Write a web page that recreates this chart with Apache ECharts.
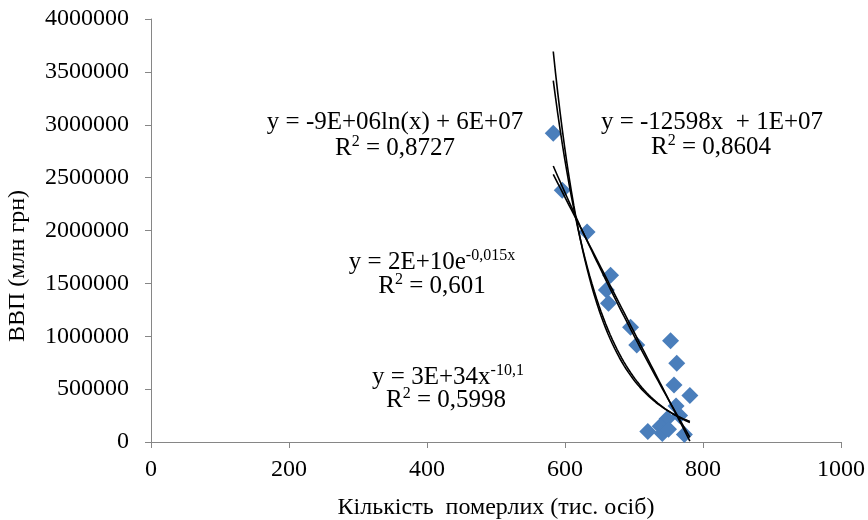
<!DOCTYPE html>
<html lang="uk">
<head>
    <meta charset="UTF-8">
    <title>ВВП та кількість померлих</title>
    <script src="https://cdn.jsdelivr.net/npm/echarts@6/dist/echarts.min.js"></script>
    <style>
        html, body { margin: 0; padding: 0; background: #fff; }
        #chart { width: 868px; height: 520px; }
    </style>
</head>
<body>
<div id="chart"></div>

<script type="text/javascript">

    // кількість померлих, тис. осіб
    var deaths = [583, 596, 632, 666, 660, 663, 695, 704, 753, 762, 758, 781, 761, 748, 766, 738, 720, 741, 773, 750];
    // ВВП, млн грн
    var gdp = [2920000, 2380000, 1985000, 1578000, 1437000, 1311000, 1084000, 917000, 957000, 744000,
               540000, 440000, 340000, 220000, 250000, 150000, 100000, 80000, 70000, 120000];

    var xTicks = [0, 200, 400, 600, 800, 1000];
    var yTicks = [0, 500000, 1000000, 1500000, 2000000, 2500000, 3000000, 3500000, 4000000];

    // least squares, same as the spreadsheet trendlines
    function fit(fx, fy) {
        var n = deaths.length, sx = 0, sy = 0, sxx = 0, sxy = 0;
        for (var i = 0; i < n; i++) {
            var a = fx(deaths[i]), b = fy(gdp[i]);
            sx += a; sy += b; sxx += a * a; sxy += a * b;
        }
        var k = (n * sxy - sx * sy) / (n * sxx - sx * sx);
        return {k: k, c: (sy - k * sx) / n};
    }
    var id = function (v) { return v; };
    var lin = fit(id, id);
    var lg = fit(Math.log, id);
    var ex = fit(id, Math.log);
    var pw = fit(Math.log, Math.log);

    var xmin = Math.min.apply(null, deaths), xmax = Math.max.apply(null, deaths);
    function curve(f) {
        var pts = [];
        for (var i = 0; i <= 60; i++) {
            var x = xmin + (xmax - xmin) * i / 60;
            pts.push([x, f(x)]);
        }
        return pts;
    }
    var trendLin = curve(function (x) { return lin.k * x + lin.c; });
    var trendLog = curve(function (x) { return lg.k * Math.log(x) + lg.c; });
    var trendExp = curve(function (x) { return Math.exp(ex.c + ex.k * x); });
    var trendPow = curve(function (x) { return Math.exp(pw.c + pw.k * Math.log(x)); });

    var font = '"Liberation Serif", "Times New Roman", serif';
    var axisGray = '#868686';

    function trend(data) {
        return {
            type: 'line',
            data: data,
            showSymbol: false,
            silent: true,
            lineStyle: {color: '#000', width: 1.6},
            z: 3
        };
    }

    var rich = {
        n: {fontSize: 25, fontFamily: 'Liberation Serif', fill: '#000', lineHeight: 28},
        sup: {fontSize: 16, fontFamily: 'Liberation Serif', fill: '#000', verticalAlign: 'top', padding: [0, 0, 10, 0]}
    };
    function label(x, y, text) {
        return {
            type: 'text',
            x: x, y: y,
            style: {
                text: text,
                fill: '#000',
                align: 'center',
                verticalAlign: 'middle',
                rich: rich
            }
        };
    }

    var chart = echarts.init(document.getElementById('chart'));
    chart.setOption({
        animation: false,
        grid: {left: 151, right: 27, top: 19, bottom: 78, outerBoundsMode: 'none', containLabel: false},
        textStyle: {fontFamily: font},
        xAxis: {
            type: 'value',
            min: xTicks[0], max: xTicks[xTicks.length - 1], interval: 200,
            name: 'Кількість  померлих (тис. осіб)',
            nameLocation: 'middle', nameGap: 54,
            nameTextStyle: {fontSize: 24, color: '#000', fontFamily: font},
            axisLine: {lineStyle: {color: axisGray}},
            axisTick: {show: true, length: 6, lineStyle: {color: axisGray}},
            axisLabel: {fontSize: 24, color: '#000', fontFamily: font, margin: 16,
                        formatter: function (v) { return String(v); }},
            splitLine: {show: false}
        },
        yAxis: {
            type: 'value',
            min: yTicks[0], max: yTicks[yTicks.length - 1], interval: 500000,
            axisLine: {show: true, lineStyle: {color: axisGray}},
            axisTick: {show: true, length: 6, lineStyle: {color: axisGray}},
            axisLabel: {fontSize: 24, color: '#000', fontFamily: font, margin: 22,
                        formatter: function (v) { return String(v); }},
            splitLine: {show: false}
        },
        series: [
            {
                type: 'scatter',
                data: deaths.map(function (x, i) { return [x, gdp[i]]; }),
                symbol: 'diamond',
                symbolSize: 17,
                itemStyle: {color: '#4A7EBB', opacity: 1},
                z: 2
            },
            trend(trendLin), trend(trendLog), trend(trendExp), trend(trendPow)
        ],
        graphic: [
            {
                type: 'text',
                x: 18, y: 266,
                rotation: Math.PI / 2,
                style: {
                    text: 'ВВП (млн грн)',
                    font: '24px ' + font,
                    fill: '#000',
                    align: 'center',
                    verticalAlign: 'middle'
                }
            },
            label(395, 122, '{n|y = -9E+06ln(x) + 6E+07}'),
            label(395, 148, '{n|R}{sup|2}{n| = 0,8727}'),
            label(712, 122, '{n|y = -12598x  + 1E+07}'),
            label(711, 147, '{n|R}{sup|2}{n| = 0,8604}'),
            label(432, 262, '{n|y = 2E+10e}{sup|-0,015x}'),
            label(432, 286, '{n|R}{sup|2}{n| = 0,601}'),
            label(448, 377, '{n|y = 3E+34x}{sup|-10,1}'),
            label(446, 400, '{n|R}{sup|2}{n| = 0,5998}')
        ]
    });
</script>
</body>
</html>
